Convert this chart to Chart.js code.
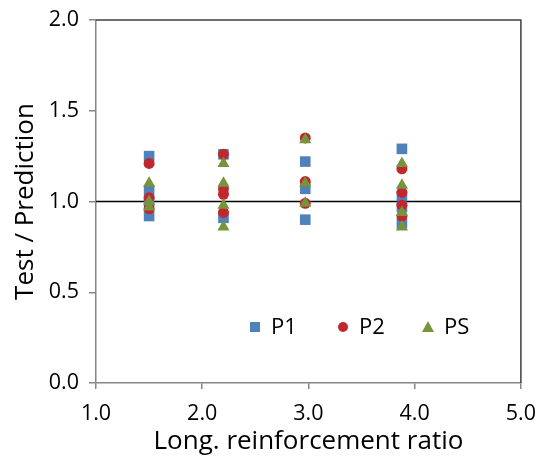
<!DOCTYPE html>
<html>
<head>
<meta charset="utf-8">
<script src="https://cdn.jsdelivr.net/npm/chart.js@4"></script>
<style>
  html, body { margin: 0; padding: 0; background: #fff; }
  #wrap { width: 548px; height: 457px; }
</style>
</head>
<body>
<div id="wrap"><canvas id="ratioChart" width="548" height="457"></canvas></div>
<script>
// reinforcement ratio columns
var p1X = [1.5, 1.5, 1.5, 1.5, 2.2, 2.2, 2.97, 2.97, 2.97, 3.88, 3.88, 3.88, 3.88];
var p1Y = [1.25, 1.06, 1.00, 0.92, 1.26, 0.91, 1.22, 1.07, 0.90, 1.29, 1.03, 0.97, 0.88];

var p2X = [1.5, 1.5, 1.5, 2.2, 2.2, 2.2, 2.2, 2.97, 2.97, 2.97, 3.88, 3.88, 3.88, 3.88];
var p2Y = [1.21, 1.02, 0.96, 1.26, 1.07, 1.04, 0.94, 1.35, 1.11, 0.99, 1.18, 1.05, 0.98, 0.92];

var psX = [1.5, 1.5, 1.5, 2.2, 2.2, 2.2, 2.2, 2.97, 2.97, 2.97, 3.88, 3.88, 3.88, 3.88];
var psY = [1.10, 1.00, 0.97, 1.21, 1.10, 0.98, 0.86, 1.34, 1.10, 0.99, 1.21, 1.09, 0.94, 0.86];

var refLineX = [1.0, 5.0];
var refLineY = [1.0, 1.0];

var seriesNames = ['P1', 'P2', 'PS'];

function pts(xs, ys) {
    return xs.map(function (x, i) { return { x: x, y: ys[i] }; });
}

var FONT = "'Open Sans', 'DejaVu Sans', sans-serif";

// legend inside plot area + top/right frame
var framePlugin = {
    id: 'frame',
    afterDraw: function (chart) {
        var ctx = chart.ctx, a = chart.chartArea;
        ctx.save();
        ctx.strokeStyle = '#404040';
        ctx.lineWidth = 1.5;
        ctx.beginPath();
        ctx.moveTo(a.left, a.top);
        ctx.lineTo(a.right, a.top);
        ctx.lineTo(a.right, a.bottom);
        ctx.stroke();

        var ly = a.bottom - 56;
        var items = [
            { ds: 0, x: a.left + 159 },
            { ds: 1, x: a.left + 247 },
            { ds: 2, x: a.left + 332 }
        ];
        ctx.font = '22px ' + FONT;
        ctx.textBaseline = 'middle';
        ctx.fillStyle = '#000';
        items.forEach(function (it) {
            var d = chart.data.datasets[it.ds];
            ctx.fillStyle = d.backgroundColor;
            ctx.beginPath();
            if (d.pointStyle === 'rect') {
                ctx.rect(it.x - 5, ly - 5, 10, 10);
            } else if (d.pointStyle === 'circle') {
                ctx.arc(it.x, ly, 5, 0, Math.PI * 2);
            } else {
                ctx.moveTo(it.x, ly - 6);
                ctx.lineTo(it.x + 6, ly + 5);
                ctx.lineTo(it.x - 6, ly + 5);
                ctx.closePath();
            }
            ctx.fill();
            ctx.fillStyle = '#000';
            ctx.fillText(d.label, it.x + 16, ly + 1);
        });
        ctx.restore();
    }
};

var ctx = document.getElementById('ratioChart').getContext('2d');
var ratioChart = new Chart(ctx, {
    type: 'scatter',
    data: {
        datasets: [
            {
                label: seriesNames[0],
                data: pts(p1X, p1Y),
                pointStyle: 'rect',
                pointRadius: 7.5,
                backgroundColor: '#4F81BD',
                borderWidth: 0,
                order: 3
            },
            {
                label: seriesNames[1],
                data: pts(p2X, p2Y),
                pointStyle: 'circle',
                pointRadius: 5.5,
                backgroundColor: '#C0282D',
                borderWidth: 0,
                order: 2
            },
            {
                label: seriesNames[2],
                data: pts(psX, psY),
                pointStyle: 'triangle',
                pointRadius: 7,
                backgroundColor: '#77933C',
                borderWidth: 0,
                order: 1
            },
            {
                type: 'line',
                label: 'ref',
                data: pts(refLineX, refLineY),
                borderColor: '#000',
                borderWidth: 1.3,
                pointRadius: 0,
                order: 4
            }
        ]
    },
    options: {
        responsive: false,
        animation: false,
        layout: { padding: { left: 0, right: 25, top: 20, bottom: 0 } },
        plugins: {
            legend: { display: false },
            tooltip: { enabled: false }
        },
        scales: {
            x: {
                type: 'linear',
                min: 1, max: 5,
                afterFit: function (s) { s.height = 74; },
                ticks: {
                    stepSize: 1,
                    padding: 12,
                    color: '#000',
                    font: { family: FONT, size: 21.5 },
                    callback: function (v) { return v.toFixed(1); }
                },
                grid: { drawOnChartArea: false, drawTicks: true, tickLength: 6, color: '#868686', lineWidth: 1.5 },
                border: { display: true, color: '#868686', width: 1.5 },
                title: {
                    display: true,
                    text: 'Long. reinforcement ratio',
                    color: '#000',
                    font: { family: FONT, size: 26 },
                    padding: { top: 0, bottom: 0 }
                }
            },
            y: {
                min: 0, max: 2,
                afterFit: function (s) {
                    s.width = 96;
                    s.paddingTop = 10;
                    s.paddingBottom = 10;
                },
                ticks: {
                    stepSize: 0.5,
                    padding: 10,
                    color: '#000',
                    font: { family: FONT, size: 21.5 },
                    callback: function (v) { return v.toFixed(1); }
                },
                grid: { drawOnChartArea: false, drawTicks: true, tickLength: 7, color: '#868686', lineWidth: 1.5 },
                border: { display: true, color: '#868686', width: 1.5 },
                title: {
                    display: true,
                    text: 'Test / Prediction',
                    color: '#000',
                    font: { family: FONT, size: 26 },
                    padding: { top: 10, bottom: 0 }
                }
            }
        }
    },
    plugins: [framePlugin]
});
</script>
</body>
</html>
